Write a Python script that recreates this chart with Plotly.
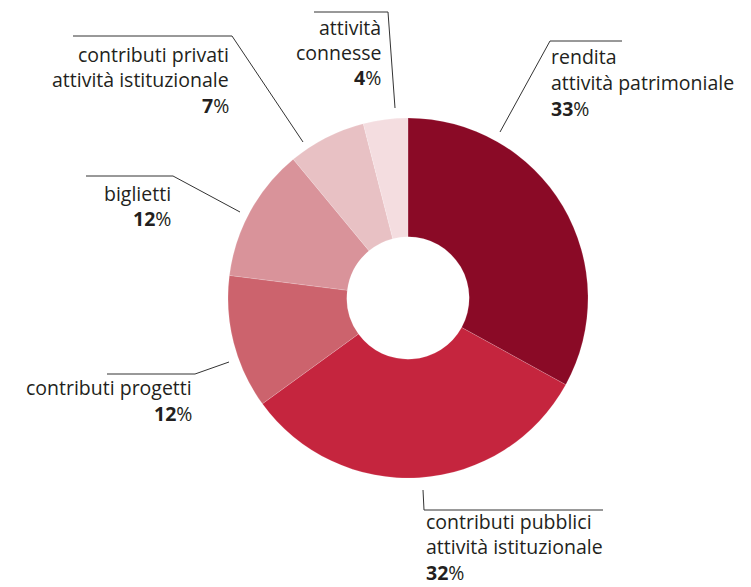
import plotly.graph_objects as go

# ---- data ----
categories = [
    "rendita<br>attività patrimoniale",
    "contributi pubblici<br>attività istituzionale",
    "contributi progetti",
    "biglietti",
    "contributi privati<br>attività istituzionale",
    "attività<br>connesse",
]
values = [33, 32, 12, 12, 7, 4]
colors = ["#8A0A26", "#C5253E", "#CC636D", "#D9939A", "#E8C1C4", "#F4DDE0"]

W, H = 751, 587
OFF = 8  # page body margin in the screenshot
CX, CY, R = 408 - OFF, 298 - OFF, 180  # donut center / radius in pixels

# label layout: (text x, first-baseline y, align, leader polyline points) in screenshot pixels
label_layout = [
    (550, 63, "left", [(500, 132), (550, 41), (622, 41)]),
    (425, 527, "left", [(423, 490), (424, 510), (603, 510)]),
    (193, 394, "right", [(229, 362), (195, 374), (107, 374)]),
    (172, 199, "right", [(240, 212), (173, 176), (86, 176)]),
    (230, 60, "right", [(303, 142), (232, 36), (73, 36)]),
    (382, 33, "right", [(395, 108), (388, 12), (314, 12)]),
]

FONT = "Open Sans"
FS = 19.5
LINE = 25.5
TXT = "#231F20"

fig = go.Figure(
    go.Pie(
        labels=categories,
        values=values,
        hole=0.34,
        sort=False,
        direction="clockwise",
        rotation=0,
        marker=dict(colors=colors, line=dict(color="rgba(255,255,255,0.3)", width=0.5)),
        textinfo="none",
        hoverinfo="label+percent",
        domain=dict(x=[(CX - R) / W, (CX + R) / W], y=[(H - CY - R) / H, (H - CY + R) / H]),
        showlegend=False,
    )
)

def px(x):
    return (x - OFF) / W

def py(y):
    return 1 - (y - OFF) / H

shapes = []
annotations = []
for cat, val, (tx, ty, align, pts) in zip(categories, values, label_layout):
    path = "M " + " L ".join(f"{px(x)},{py(y)}" for x, y in pts)
    shapes.append(dict(type="path", xref="paper", yref="paper", path=path,
                       line=dict(color="#333333", width=1)))
    lines = cat.split("<br>") + [f"<b>{val}</b>%"]
    for i, ln in enumerate(lines):
        base = ty + i * LINE
        annotations.append(dict(
            x=px(tx), y=py(base - 6), xref="paper", yref="paper",
            text=ln, showarrow=False, align=align,
            xanchor="left" if align == "left" else "right", yanchor="middle",
            font=dict(family=FONT, size=FS, color=TXT), borderpad=0,
        ))

fig.update_layout(
    width=W, height=H,
    margin=dict(l=0, r=0, t=0, b=0),
    paper_bgcolor="white", plot_bgcolor="white",
    shapes=shapes, annotations=annotations,
)

fig.write_html("out.html")
